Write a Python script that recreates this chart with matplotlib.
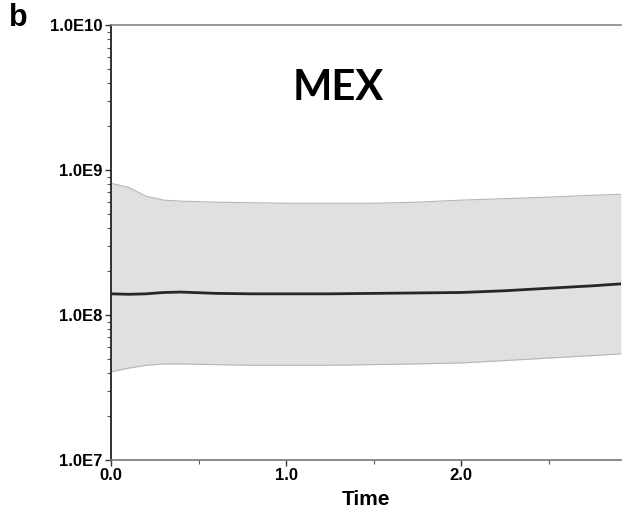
import matplotlib.pyplot as plt
from matplotlib.ticker import FixedLocator, LogLocator, NullFormatter

# skyline estimate: time, median and 95% HPD bounds
time = [0.0, 0.1, 0.2, 0.3, 0.4, 0.6, 0.8, 1.0, 1.25, 1.5, 1.75, 2.0, 2.25, 2.5, 2.75, 2.914]
median = [1.40e8, 1.39e8, 1.40e8, 1.43e8, 1.44e8, 1.41e8, 1.40e8, 1.40e8, 1.40e8, 1.41e8,
          1.42e8, 1.43e8, 1.47e8, 1.53e8, 1.59e8, 1.64e8]
upper = [8.1e8, 7.6e8, 6.6e8, 6.2e8, 6.1e8, 6.0e8, 5.95e8, 5.9e8, 5.9e8, 5.9e8,
         6.0e8, 6.2e8, 6.35e8, 6.5e8, 6.7e8, 6.8e8]
lower = [4.05e7, 4.3e7, 4.5e7, 4.6e7, 4.6e7, 4.55e7, 4.5e7, 4.5e7, 4.5e7, 4.55e7,
         4.6e7, 4.67e7, 4.85e7, 5.05e7, 5.25e7, 5.4e7]

y_ticks = [1e7, 1e8, 1e9, 1e10]
y_labels = ["1.0E7", "1.0E8", "1.0E9", "1.0E10"]
x_ticks = [0.0, 1.0, 2.0]
x_labels = ["0.0", "1.0", "2.0"]

plt.rcParams['font.family'] = ['Liberation Sans', 'DejaVu Sans']

fig = plt.figure(figsize=(6.25, 5.19), dpi=100)
ax = fig.add_axes([0.1776, 0.1137, 0.816, 0.838])

ax.fill_between(time, lower, upper, color="#e0e0e0", linewidth=0)
ax.plot(time, upper, color="#b5b5b5", lw=0.8)
ax.plot(time, lower, color="#b5b5b5", lw=0.8)
ax.plot(time, median, color="#262626", lw=2.0)

ax.set_yscale("log")
ax.set_ylim(1e7, 1e10)
ax.set_xlim(0, 2.914)

ax.yaxis.set_major_locator(FixedLocator(y_ticks))
ax.set_yticklabels(y_labels, fontweight="bold", fontsize=12)
ax.yaxis.set_minor_locator(LogLocator(base=10, subs=range(2, 10)))
ax.yaxis.set_minor_formatter(NullFormatter())

ax.set_xticks(x_ticks)
ax.set_xticklabels(x_labels, fontweight="bold", fontsize=12)
ax.set_xticks([0.5, 1.5, 2.5], minor=True)

ax.tick_params(axis="both", which="major", direction="out", length=4, width=1, color="#333333", pad=2)
ax.tick_params(axis="both", which="minor", direction="out", length=3, width=0.8, color="#555555")

ax.spines["right"].set_visible(False)
ax.spines["left"].set_color("#222222")
ax.spines["left"].set_linewidth(1.3)
ax.spines["bottom"].set_color("#777777")
ax.spines["bottom"].set_linewidth(1.2)
ax.spines["top"].set_color("#888888")
ax.spines["top"].set_linewidth(1.2)

ax.set_xlabel("Time", fontweight="bold", fontsize=15, labelpad=5)

ax.text(0.445, 0.855, "MEX", transform=ax.transAxes, ha="center", va="center",
        fontsize=30, fontweight="bold", family=["Lato", "DejaVu Sans"])
fig.text(0.015, 0.995, "b", ha="left", va="top", fontsize=22, fontweight="bold")

fig.savefig("out.png", dpi=100)
